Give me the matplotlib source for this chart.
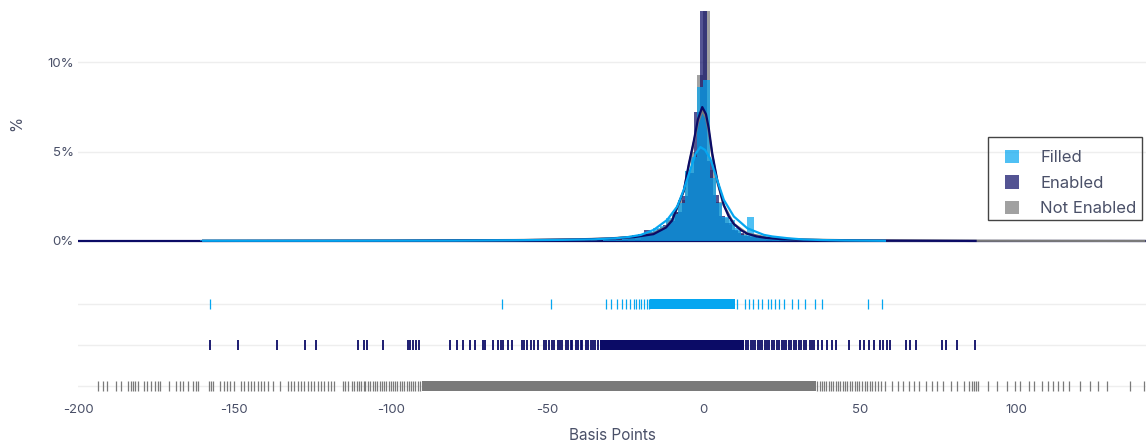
import matplotlib
matplotlib.use("Agg")
import matplotlib.pyplot as plt
from matplotlib.patches import Rectangle

plt.rcParams['font.family'] = ['Inter', 'DejaVu Sans']

# histogram bins (centre, % of series), bin size 2 bp
filled_bins = [-160, -65, -49, -31, -29, -27, -25, -23, -21, -19, -17, -15, -13, -11, -9, -7,
               -5, -3, -1, 1, 3, 5, 7, 9, 11, 13, 15, 17, 19, 21, 23, 25, 27, 29, 31, 35, 37, 53, 57]
filled_pct = [0.03, 0.03, 0.03, 0.05, 0.06, 0.08, 0.1, 0.14, 0.2, 0.35, 0.5, 0.75, 0.85, 1.3, 1.5, 2.1,
              3.9, 4.7, 8.6, 9.0, 3.5, 2.1, 1.35, 1.2, 0.7, 0.35, 1.35, 0.3, 0.25, 0.2, 0.16, 0.12, 0.1, 0.08, 0.06, 0.05, 0.04, 0.03, 0.03]

enabled_bins = [-158, -148, -136, -128, -124, -110, -108, -102, -94, -92, -80, -76, -74, -70, -66, -64,
                -62, -58, -56, -54, -52, -50, -48, -46, -44, -42, -40, -38, -36, -34, -32, -30, -28,
                -26, -24, -22, -20, -18, -16, -14, -12, -10, -8, -6, -4, -2, 0, 2, 4, 6, 8, 10, 12, 14,
                16, 18, 20, 22, 24, 26, 28, 30, 32, 34, 36, 38, 40, 42, 46, 50, 52, 54, 56, 58, 60, 66,
                68, 76, 78, 82, 86]
enabled_pct = [0.02, 0.02, 0.02, 0.02, 0.02, 0.03, 0.03, 0.02, 0.04, 0.03, 0.03, 0.03, 0.03, 0.04, 0.04, 0.04,
               0.04, 0.05, 0.05, 0.05, 0.06, 0.06, 0.07, 0.07, 0.08, 0.09, 0.1, 0.11, 0.12, 0.13, 0.15, 0.17, 0.2,
               0.23, 0.27, 0.32, 0.38, 0.6, 0.5, 0.65, 0.9, 1.1, 1.6, 2.5, 3.8, 7.2, 12.9, 4.5, 2.6, 1.4, 1.0, 0.6, 0.45, 0.3,
               0.22, 0.18, 0.14, 0.12, 0.1, 0.08, 0.07, 0.06, 0.05, 0.05, 0.04, 0.04, 0.03, 0.03, 0.02, 0.03, 0.02, 0.02, 0.03, 0.03, 0.02, 0.02,
               0.02, 0.02, 0.02, 0.02, 0.02]

not_enabled_bins = [-193, -185, -177, -169, -161, -153, -145, -137, -129, -121, -113, -105, -97, -89, -81,
                    -73, -65, -59, -55, -51, -47, -43, -39, -35, -31, -27, -23, -19, -17, -15, -13, -11, -9,
                    -7, -5, -3, -1, 1, 3, 5, 7, 9, 11, 13, 15, 17, 19, 23, 27, 31, 35, 39, 43, 47, 51, 55,
                    61, 69, 77, 85, 95, 105, 115, 127, 139]
not_enabled_pct = [0.01, 0.01, 0.01, 0.01, 0.01, 0.01, 0.02, 0.02, 0.02, 0.02, 0.03, 0.03, 0.03, 0.04, 0.04,
                   0.05, 0.05, 0.06, 0.07, 0.08, 0.09, 0.1, 0.12, 0.14, 0.17, 0.2, 0.26, 0.32, 0.42, 0.55, 0.8, 1.2, 1.6,
                   2.3, 3.9, 5.0, 9.3, 12.9, 4.0, 2.2, 1.3, 0.9, 0.55, 0.38, 0.28, 0.22, 0.18, 0.14, 0.1, 0.08, 0.07, 0.06, 0.05, 0.04, 0.04, 0.03,
                   0.03, 0.02, 0.02, 0.02, 0.01, 0.01, 0.01, 0.01, 0.01]

# kde curves (bp, %)
filled_kde_x = [-160, -120, -80, -60, -45, -35, -28, -24, -20, -15.9, -11.6, -8.4, -6.3, -4.2, -2.5, -1,
                0.5, 2.2, 4.4, 6.5, 9.7, 14, 19.3, 22, 27, 32, 38, 45, 52, 58]
filled_kde_y = [0.01, 0.01, 0.02, 0.04, 0.06, 0.09, 0.15, 0.22, 0.34, 0.62, 1.18, 1.93, 2.87, 4.0, 4.9, 5.26,
                5.1, 4.6, 3.4, 2.3, 1.37, 0.71, 0.34, 0.25, 0.15, 0.08, 0.05, 0.03, 0.02, 0.01]
enabled_kde_x = [-160, -100, -60, -40, -30, -22, -16, -12, -10, -8.4, -6.3, -4.7, -3.1, -1.8, -0.4, 0.8,
                 1.7, 2.8, 4.4, 6.5, 8, 9.7, 12, 14, 17, 20, 25, 30, 40, 55, 70, 87]
enabled_kde_y = [0.0, 0.01, 0.04, 0.08, 0.13, 0.22, 0.38, 0.75, 1.15, 1.9, 2.8, 4.3, 5.6, 6.8, 7.5, 7.1,
                 6.3, 4.9, 3.4, 2.0, 1.4, 0.95, 0.6, 0.4, 0.25, 0.17, 0.1, 0.07, 0.04, 0.02, 0.01, 0.0]
not_enabled_kde_x = [-160, -100, -60, -40, -30, -22, -16, -12, -10, -8.4, -6.3, -4.7, -3.1, -1.8, -0.4, 0.8,
                     1.7, 2.8, 4.4, 6.5, 9.7, 14, 20, 30, 50, 85, 110, 141]
not_enabled_kde_y = [0.01, 0.02, 0.05, 0.09, 0.14, 0.24, 0.42, 0.8, 1.2, 1.85, 2.8, 4.2, 5.5, 6.6, 7.3, 6.9,
                     6.1, 4.8, 3.3, 2.0, 0.95, 0.42, 0.2, 0.08, 0.03, 0.01, 0.005, 0.0]

# rug marks (bp); solid stretches where marks merge are kept as (start, end)
filled_rug = [-157.8, -64.5, -48.9, -31.3, -29.5, -27.7, -25.9, -24.7, -23.5, -22.3, -21.5, -20.6, -19.9,
              -19.0, -18.1, -17.5, 10.8, 13.3, 14.5, 15.7, 17.5, 18.7, 20.5, 21.7, 22.9, 24.1, 25.9, 28.3,
              30.1, 32.5, 35.5, 38.0, 52.7, 57.2]
filled_solid = [(-17.0, 10.2)]
enabled_rug = [-157.8, -148.7, -136.4, -127.3, -123.8, -110.6, -108.5, -107.5, -102.5, -94.6, -93.8, -93.0,
               -91.9, -90.9, -81.0, -78.9, -76.8, -74.6, -73.0, -70.4, -69.8, -67.2, -65.6, -64.8, -64.0,
               -62.4, -61.3, -58.1, -57.4, -56.3, -55.2, -54.2, -52.9, -51.0, -50.3, -49.5, -48.4, -47.8,
               -46.6, -45.9, -45.1, -44.0, -43.4, -42.5, -41.9, -40.8, -40.1, -39.2, -38.7, -37.6, -36.9,
               -36.1, -35.2, -34.6, -33.8, 13.6, 14.3, 15.2, 15.7, 16.6, 17.4, 18.1, 18.8, 19.6, 20.3, 21.1,
               21.9, 22.5, 23.4, 24.1, 25.0, 25.6, 26.5, 27.3, 28.0, 28.9, 29.6, 30.4, 31.3, 32.0, 32.8,
               33.9, 34.6, 35.4, 36.7, 38.0, 39.4, 41.0, 42.5, 46.4, 50.0, 51.4, 53.0, 54.6, 56.3, 57.5,
               58.7, 59.6, 64.7, 65.9, 68.1, 76.3, 77.7, 81.1, 86.7]
enabled_solid = [(-33.2, 12.9)]
not_enabled_rug = [-193.5, -192.1, -190.7, -187.8, -186.4, -184.1, -183.2, -182.5, -181.8, -180.9, -178.8,
                   -177.9, -176.7, -175.3, -174.5, -173.7, -171.0, -168.7, -167.4, -166.5, -164.9, -163.3,
                   -162.3, -161.5, -158.0, -157.5, -157.0, -154.5, -153.4, -152.4, -151.3, -150.2, -147.9,
                   -146.8, -145.8, -144.7, -143.6, -142.6, -141.5, -140.4, -139.4, -137.8, -135.4, -133.0,
                   -132.0, -130.9, -129.8, -128.8, -127.7, -126.6, -125.6, -124.5, -123.4, -122.4, -121.3,
                   -120.2, -119.1, -118.1, -115.4, -114.7, -113.8, -112.3, -111.6, -110.9, -110.1, -109.4,
                   -108.7, -108.1, -107.2, -106.6, -105.8, -105.1, -104.3, -103.6, -102.9, -102.2, -101.4,
                   -100.7, -100.0, -99.4, -98.5, -97.9, -97.1, -96.4, -95.8, -94.9, -94.3, -93.5, -92.8,
                   -92.2, -91.4, -90.6, 36.4, 37.1, 37.9, 38.5, 39.3, 40.0, 40.8, 41.4, 42.3, 43.0, 43.6,
                   44.5, 45.2, 45.9, 46.8, 47.4, 48.3, 49.1, 49.8, 50.6, 51.5, 52.3, 53.2, 54.0, 54.9, 55.8,
                   56.9, 58.0, 60.3, 62.1, 63.9, 65.7, 67.2, 68.8, 71.2, 73.0, 74.8, 76.6, 79.0, 81.2, 83.2,
                   85.0, 86.0, 86.6, 87.2, 87.8, 91.0, 94.0, 97.0, 99.6, 101.1, 104.2, 105.7, 108.4, 110.2,
                   111.7, 113.3, 115.0, 116.8, 120.5, 123.5, 126.1, 128.9, 136.5, 141.0]
not_enabled_solid = [(-90.0, 36.0)]

names = ['Filled', 'Enabled', 'Not Enabled']
colors = ['#05a6f0', '#0b0b66', '#7a7a7a']
x_ticks = [-200, -150, -100, -50, 0, 50, 100]
txt = '#4a5068'

W, H = 1146, 442
fig = plt.figure(figsize=(W / 100, H / 100), dpi=100)
ax = fig.add_axes([0.0681, 0.4428, 0.9319, 0.5572])
rug = fig.add_axes([0.0681, 0.1018, 0.9319, 0.2579], sharex=ax)

ax.axhline(0, color=colors[1], lw=1.6, zorder=1)

hists = [(filled_bins, filled_pct), (enabled_bins, enabled_pct), (not_enabled_bins, not_enabled_pct)]
kdes = [(filled_kde_x, filled_kde_y), (enabled_kde_x, enabled_kde_y), (not_enabled_kde_x, not_enabled_kde_y)]
bars = {}
for i in [2, 1, 0]:
    bars[i] = ax.bar(hists[i][0], hists[i][1], width=2, color=colors[i], alpha=0.7, lw=0, label=names[i], zorder=2)
for i in [2, 1, 0]:
    ax.plot(kdes[i][0], kdes[i][1], color=colors[i], lw=1.6, zorder=3)

ax.set_xlim(-200, 141.5)
ax.set_ylim(-0.3, 13.5)
ax.set_yticks([0, 5, 10])
ax.set_yticklabels(['0%', '5%', '10%'])
ax.grid(axis='y', color='#eeeeee', lw=1)
ax.set_axisbelow(True)
ax.tick_params(axis='y', length=0, labelsize=9.5, labelcolor=txt, pad=3)
ax.tick_params(axis='x', length=0, labelbottom=False)
for s in ax.spines.values():
    s.set_visible(False)
ax.set_ylabel('%', fontsize=11, color=txt)
ax.yaxis.set_label_coords(-0.05, 0.5)

# legend box drawn separately so the padding matches
ax.legend([bars[0], bars[1], bars[2]], names, loc='upper left',
          bbox_to_anchor=(1005 / W, 1 - 150 / H), bbox_transform=fig.transFigure,
          borderaxespad=0, borderpad=0, fontsize=12, frameon=False,
          handlelength=0.85, handleheight=0.85, handletextpad=1.25,
          labelspacing=0.6, labelcolor=txt)
fig.patches.append(Rectangle((988 / W, 1 - 220 / H), 154 / W, 83 / H, transform=fig.transFigure,
                             fill=True, fc='none', ec='#444444', lw=1, zorder=5))

rugs = [(filled_rug, filled_solid, 0.9), (enabled_rug, enabled_solid, 1.3), (not_enabled_rug, not_enabled_solid, 0.9)]
for i, (pts, solid, lw) in enumerate(rugs):
    rug.vlines(pts, i - 0.12, i + 0.12, color=colors[i], lw=lw, zorder=3)
    rug.broken_barh([(a, b - a) for a, b in solid], (i - 0.12, 0.24), color=colors[i], lw=0, zorder=3)
rug.set_ylim(2.268, -0.512)
rug.set_yticks([0, 1, 2])
rug.set_yticklabels([])
rug.grid(axis='y', color='#eeeeee', lw=1)
rug.set_axisbelow(True)
rug.tick_params(axis='y', length=0)
rug.set_xticks(x_ticks)
rug.set_xticklabels([str(t) for t in x_ticks])
rug.tick_params(axis='x', length=0, labelsize=9.5, labelcolor=txt, pad=5)
for s in rug.spines.values():
    s.set_visible(False)
rug.set_xlabel('Basis Points', fontsize=11, color=txt, labelpad=9)

fig.savefig('out.png', dpi=100)
